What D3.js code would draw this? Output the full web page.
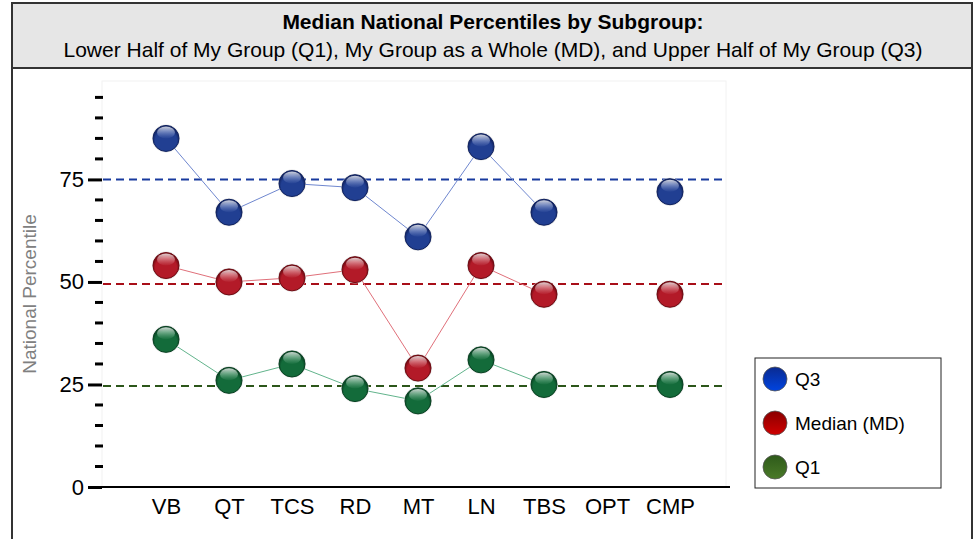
<!DOCTYPE html>
<html>
<head>
<meta charset="utf-8">
<script src="https://cdn.jsdelivr.net/npm/d3@7"></script>
<style>
  body { margin: 0; background: #fff; font-family: "Liberation Sans", Arial, sans-serif; }
  svg { display: block; }
</style>
</head>
<body>
<svg id="chart" width="976" height="539"></svg>
<script>
// subtests along the x axis
var categories = ["VB", "QT", "TCS", "RD", "MT", "LN", "TBS", "OPT", "CMP"];
// median national percentiles per subgroup (null = no score)
var q3Values = [85, 67, 74, 73, 61, 83, 67, null, 72];
var mdValues = [54, 50, 51, 53, 29, 54, 47, null, 47];
var q1Values = [36, 26, 30, 24, 21, 31, 25, null, 25];
// national reference lines
var refValues = [75, 49.5, 24.6];
var yTickLabels = [0, 25, 50, 75];
var legendLabels = ["Q3", "Median (MD)", "Q1"];

var svg = d3.select("#chart");
var defs = svg.append("defs");

// series styling (ball colour, line colour, dashed ref colour, legend colour)
var seriesStyle = [
  { id: "q3", values: q3Values, dark: "#102260", mid: "#213f92", light: "#8ea4dc", line: "#6f87cf", ref: "#183a9e", legend: ["#0a2a90", "#0044e0"] },
  { id: "md", values: mdValues, dark: "#700a12", mid: "#b31a28", light: "#eaa0a6", line: "#e0707a", ref: "#a80e18", legend: ["#8a0000", "#d00000"] },
  { id: "q1", values: q1Values, dark: "#084222", mid: "#136b3a", light: "#8ccca6", line: "#62b48c", ref: "#2c561a", legend: ["#2e5a1a", "#4a7a28"] }
];

// glossy ball gradients
seriesStyle.forEach(function (s) {
  var g = defs.append("radialGradient").attr("id", "ball-" + s.id)
    .attr("cx", "50%").attr("cy", "60%").attr("r", "55%");
  g.append("stop").attr("offset", "0%").attr("stop-color", s.mid);
  g.append("stop").attr("offset", "75%").attr("stop-color", s.mid);
  g.append("stop").attr("offset", "100%").attr("stop-color", s.dark);
  var h = defs.append("linearGradient").attr("id", "shine-" + s.id)
    .attr("x1", 0).attr("y1", 0).attr("x2", 0).attr("y2", 1);
  h.append("stop").attr("offset", "0%").attr("stop-color", "#fff").attr("stop-opacity", 0.8);
  h.append("stop").attr("offset", "100%").attr("stop-color", s.light).attr("stop-opacity", 0.05);
  var lg = defs.append("linearGradient").attr("id", "leg-" + s.id)
    .attr("x1", 0).attr("y1", 0).attr("x2", 0).attr("y2", 1);
  lg.append("stop").attr("offset", "0%").attr("stop-color", s.legend[0]);
  lg.append("stop").attr("offset", "100%").attr("stop-color", s.legend[1]);
});

// outer frame + title box
svg.append("rect").attr("x", 12).attr("y", 3).attr("width", 960).attr("height", 560)
  .attr("fill", "#fff").attr("stroke", "#333").attr("stroke-width", 2);
svg.append("rect").attr("x", 12).attr("y", 3).attr("width", 960).attr("height", 65)
  .attr("fill", "#e6e6e6").attr("stroke", "#333").attr("stroke-width", 2);
svg.append("text").attr("x", 493).attr("y", 29).attr("text-anchor", "middle")
  .attr("font-size", 21).attr("font-weight", "bold").attr("fill", "#000")
  .text("Median National Percentiles by Subgroup:");
svg.append("text").attr("x", 493).attr("y", 57).attr("text-anchor", "middle")
  .attr("font-size", 21).attr("fill", "#000")
  .text("Lower Half of My Group (Q1), My Group as a Whole (MD), and Upper Half of My Group (Q3)");

var x = d3.scalePoint().domain(categories).range([103, 733]).padding(1);
var y = d3.scaleLinear().domain([0, 99]).range([487, 81]);

// plot area
svg.append("rect").attr("x", 102).attr("y", 81).attr("width", 624).attr("height", 406)
  .attr("fill", "#fff").attr("stroke", "#f2f2f2").attr("stroke-width", 1);

// minor ticks every 5
var minorTicks = d3.range(5, 100, 5).filter(function (v) { return v % 25 !== 0; });
svg.append("g").selectAll("line").data(minorTicks).join("line")
  .attr("x1", 95).attr("x2", 103)
  .attr("y1", function (d) { return y(d); }).attr("y2", function (d) { return y(d); })
  .attr("stroke", "#000").attr("stroke-width", 3);

// major ticks + labels
var yAxis = d3.axisLeft(y).tickValues(yTickLabels).tickSize(14).tickPadding(4);
var yg = svg.append("g").attr("transform", "translate(102,0)").call(yAxis);
yg.select(".domain").remove();
yg.selectAll(".tick line").attr("stroke", "#000").attr("stroke-width", 3);
yg.selectAll(".tick text").attr("font-size", 22).attr("font-family", "Liberation Sans, Arial, sans-serif").attr("fill", "#000");

svg.append("text").attr("transform", "translate(36,294) rotate(-90)")
  .attr("text-anchor", "middle").attr("font-size", 19).attr("fill", "#808080")
  .text("National Percentile");

// x axis
var xAxis = d3.axisBottom(x).tickSize(0).tickPadding(11);
var xg = svg.append("g").attr("transform", "translate(0,487)").call(xAxis);
xg.select(".domain").attr("d", "M88,0H730").attr("stroke", "#000").attr("stroke-width", 2);
xg.selectAll(".tick text").attr("font-size", 22).attr("font-family", "Liberation Sans, Arial, sans-serif").attr("fill", "#000");

// reference dashed lines
svg.append("g").selectAll("line").data(refValues).join("line")
  .attr("x1", 103).attr("x2", 726)
  .attr("y1", function (d) { return y(d); }).attr("y2", function (d) { return y(d); })
  .attr("stroke", function (d, i) { return seriesStyle[i].ref; })
  .attr("stroke-width", 2).attr("stroke-dasharray", "8,5");

// connecting lines (break on missing)
var line = d3.line()
  .defined(function (d) { return d.v !== null; })
  .x(function (d) { return x(d.c); })
  .y(function (d) { return y(d.v); });

seriesStyle.forEach(function (s) {
  var pts = categories.map(function (c, i) { return { c: c, v: s.values[i] }; });
  svg.append("path").datum(pts).attr("d", line)
    .attr("fill", "none").attr("stroke", s.line).attr("stroke-width", 1);
});

// balls
seriesStyle.forEach(function (s) {
  var pts = categories.map(function (c, i) { return { c: c, v: s.values[i] }; })
    .filter(function (d) { return d.v !== null; });
  var g = svg.append("g").selectAll("g").data(pts).join("g")
    .attr("transform", function (d) { return "translate(" + x(d.c) + "," + y(d.v) + ")"; });
  g.append("circle").attr("r", 14).attr("fill", "#ccc").attr("opacity", 0.6);
  g.append("circle").attr("r", 13).attr("fill", "url(#ball-" + s.id + ")")
    .attr("stroke", s.dark).attr("stroke-width", 1);
  g.append("ellipse").attr("cx", 0).attr("cy", -6).attr("rx", 9).attr("ry", 6)
    .attr("fill", "url(#shine-" + s.id + ")");
});

// legend
var legend = svg.append("g").attr("transform", "translate(755,358)");
legend.append("rect").attr("width", 186).attr("height", 130)
  .attr("fill", "#fff").attr("stroke", "#222").attr("stroke-width", 1);
legendLabels.forEach(function (lab, i) {
  var row = legend.append("g").attr("transform", "translate(20," + (21 + i * 44) + ")");
  row.append("circle").attr("r", 12).attr("fill", "url(#leg-" + seriesStyle[i].id + ")")
    .attr("stroke", "#555").attr("stroke-width", 0.8);
  row.append("text").attr("x", 20).attr("y", 7).attr("font-size", 19).attr("fill", "#000").text(lab);
});
</script>
</body>
</html>
